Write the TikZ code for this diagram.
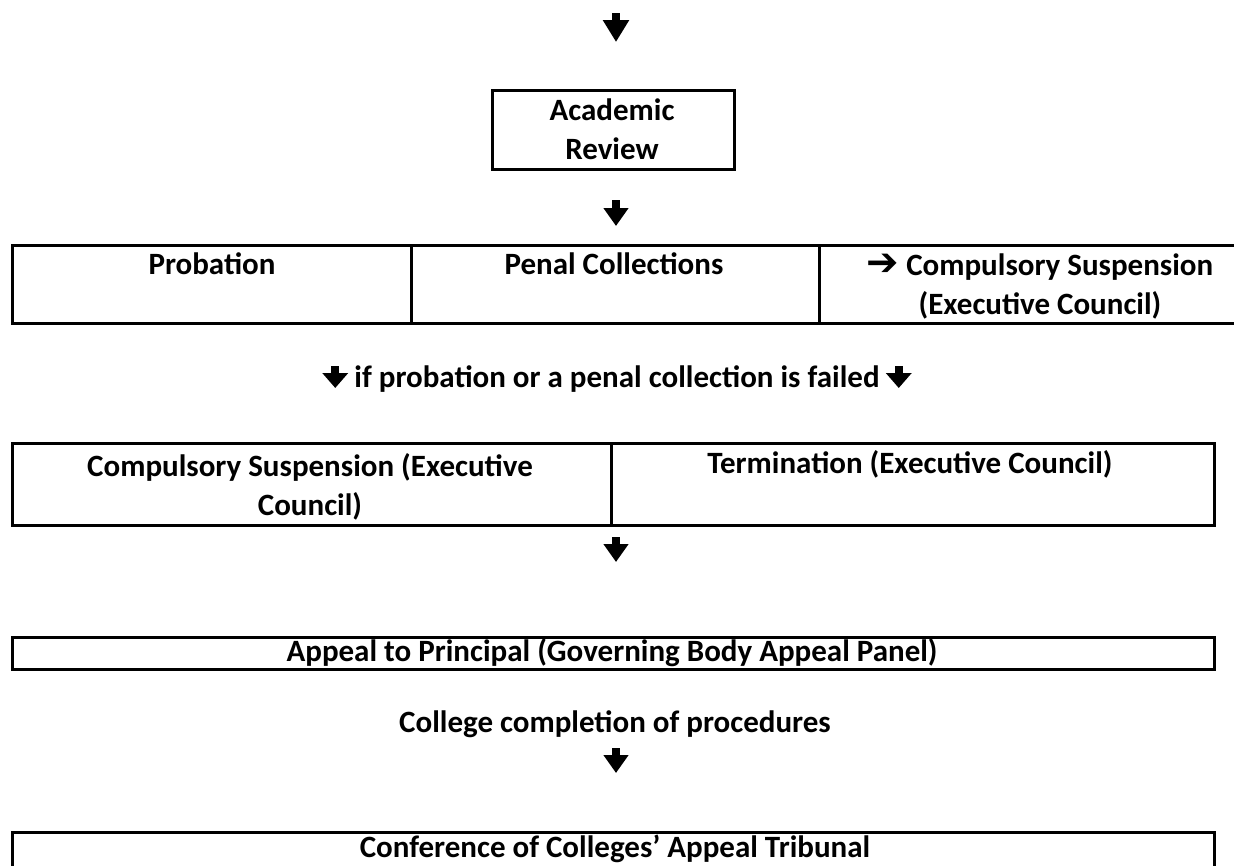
\documentclass[tikz,border=0pt]{standalone}
\usepackage{fontspec}
\setmainfont{Carlito}
\newfontfamily\symfont{DejaVu Sans}
\usetikzlibrary{arrows.meta}
\tikzset{
  cell/.style={draw, line width=2.5pt, anchor=north west, inner sep=0pt},
  txt/.style={font=\fontsize{31}{39}\selectfont\bfseries, inner sep=0pt, align=center},
  down/.style={line width=8pt, -{Triangle[length=18pt,width=24pt]}},
}
\begin{document}
\begin{tikzpicture}[x=1pt,y=-1pt]
	\useasboundingbox (0,0) rectangle (1234,865);
	\clip (0,0) rectangle (1234,865);
	% top arrow
	\coordinate (a0s) at (616,13); \coordinate (a0e) at (616,42);
	\draw[down, -{Triangle[length=22pt,width=25pt]}] (a0s) -- (a0e);
	% academic review
	\node[cell, minimum width=242pt, minimum height=79pt] (review) at (491,89) {};
	\node[txt, anchor=north] (reviewtxt) at (612,99) {Academic\\Review};
	\coordinate (a1s) at (616,200); \coordinate (a1e) at (616,226);
	\draw[down] (a1s) -- (a1e);
	% first row
	\node[cell, minimum width=399pt, minimum height=78pt] (prob) at (11,244) {};
	\node[cell, minimum width=408pt, minimum height=78pt] (penal) at (410,244) {};
	\node[cell, minimum width=444pt, minimum height=78pt] (susp) at (818,244) {};
	\node[txt, anchor=base] (probtxt) at (212,274) {Probation};
	\node[txt, anchor=base] (penaltxt) at (614,274) {Penal Collections};
	\node[txt, anchor=north] (susptxt) at (1040,254) {{\symfont\bfseries\scalebox{1.25}{\char"2794}}\ Compulsory Suspension\\(Executive Council)};
	% condition
	\node[txt, anchor=base] (failtxt) at (617,387) {if probation or a penal collection is failed};
	\coordinate (a2s) at ([xshift=-19pt,yshift=21pt]failtxt.base west); \coordinate (a2e) at ([xshift=-19pt,yshift=-1pt]failtxt.base west);
	\coordinate (a3s) at ([xshift=19pt,yshift=21pt]failtxt.base east); \coordinate (a3e) at ([xshift=19pt,yshift=-1pt]failtxt.base east);
	\draw[down, -{Triangle[length=15pt,width=25pt]}] (a2s) -- (a2e);
	\draw[down, -{Triangle[length=15pt,width=25pt]}] (a3s) -- (a3e);
	% second row
	\node[cell, minimum width=599pt, minimum height=82pt] (susp2) at (11,442) {};
	\node[cell, minimum width=603pt, minimum height=82pt] (term) at (610,442) {};
	\node[txt, anchor=north] (susp2txt) at (310,453) {Compulsory Suspension (Executive\\Council)};
	\node[txt, anchor=base] (termtxt) at (910,473) {Termination (Executive Council)};
	\coordinate (a4s) at (616,537); \coordinate (a4e) at (616,562);
	\draw[down] (a4s) -- (a4e);
	% appeal
	\node[cell, minimum width=1202pt, minimum height=32pt] (appeal) at (11,636) {};
	\node[txt, anchor=base] (appealtxt) at (612,661) {Appeal to Principal (Governing Body Appeal Panel)};
	\node[txt, anchor=base] (college) at (615,732) {College completion of procedures};
	\coordinate (a5s) at (616,748); \coordinate (a5e) at (616,773);
	\draw[down] (a5s) -- (a5e);
	% tribunal
	\node[cell, minimum width=1202pt, minimum height=60pt] (tribunal) at (11,831) {};
	\node[txt, anchor=base] (tribunaltxt) at (615,857) {Conference of Colleges’ Appeal Tribunal};
\end{tikzpicture}
\end{document}
